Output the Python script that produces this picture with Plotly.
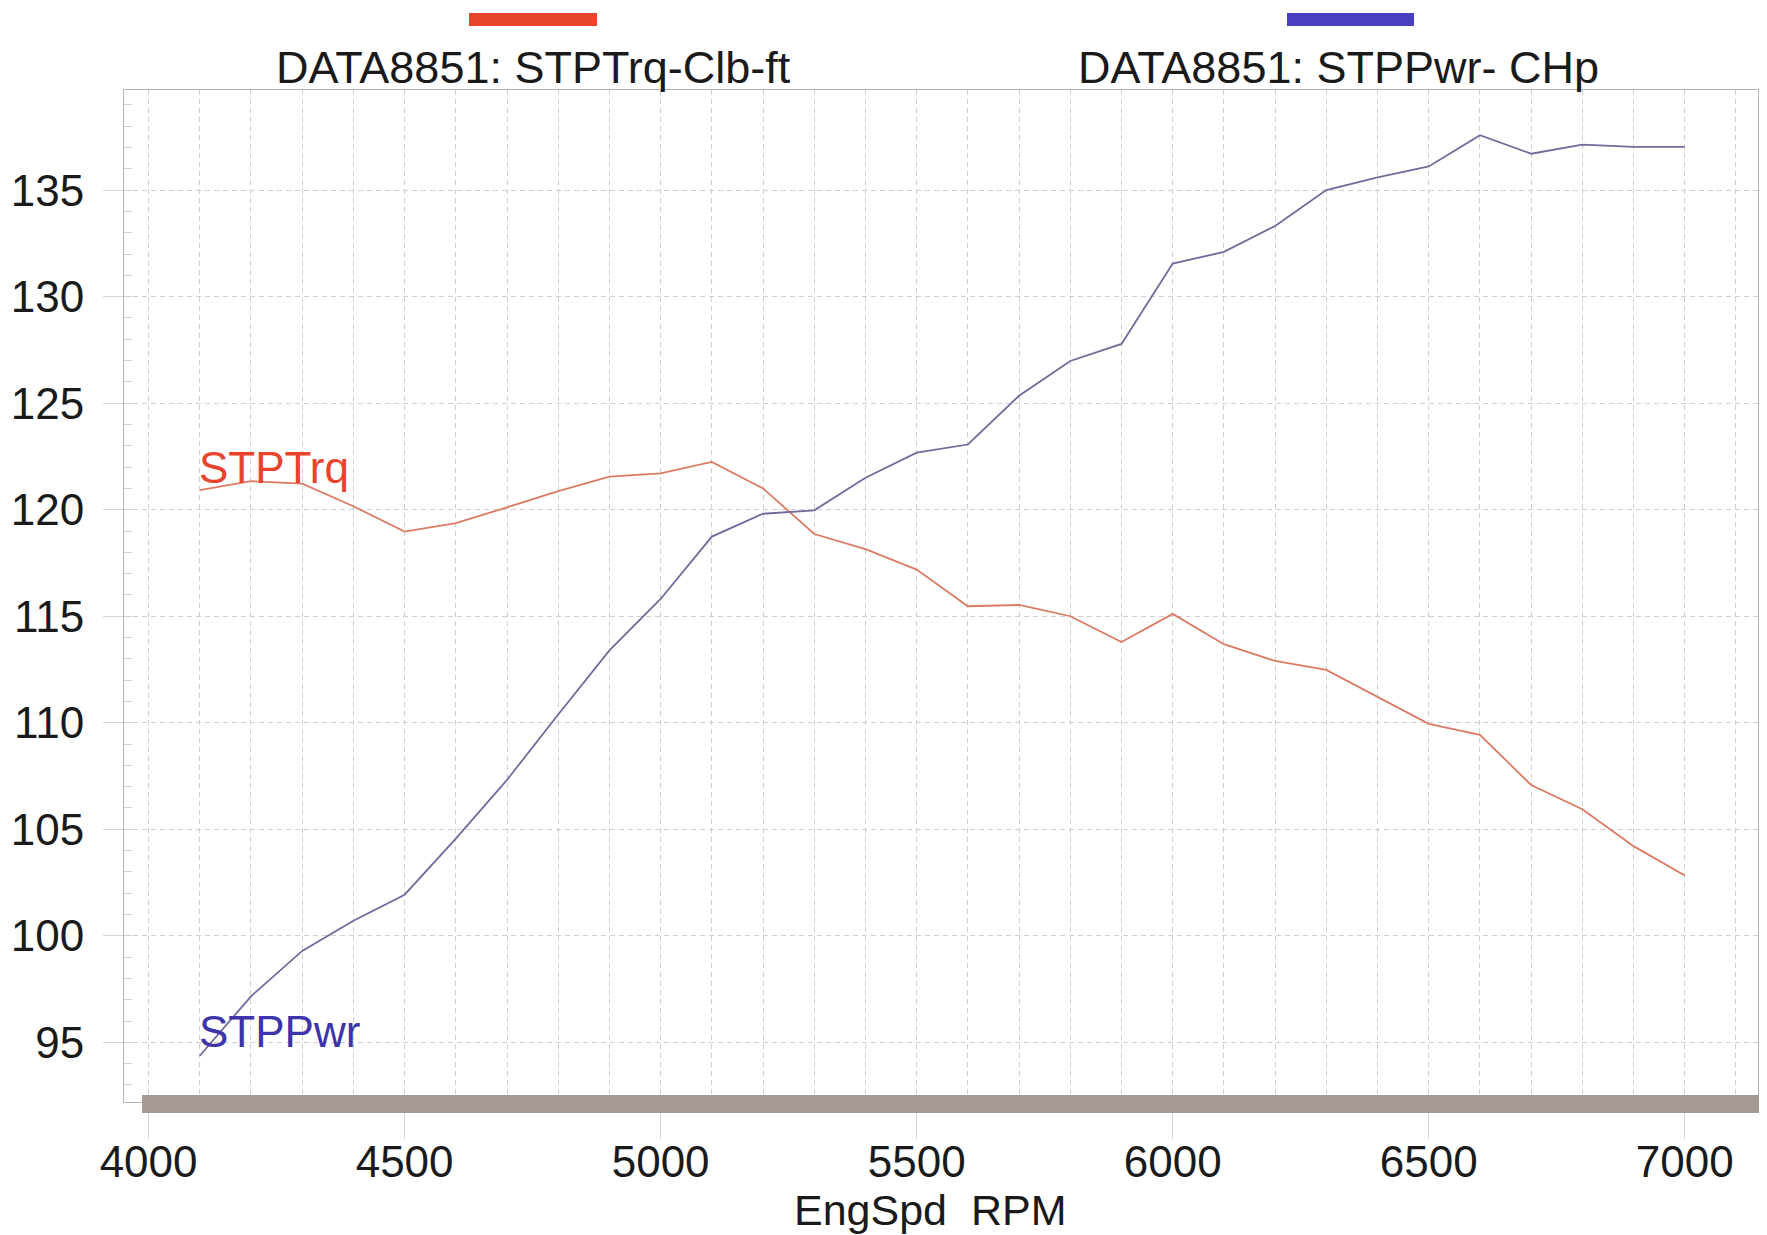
import plotly.graph_objects as go

# ---- data ----
rpm = [4100, 4200, 4300, 4400, 4500, 4600, 4700, 4800, 4900, 5000,
       5100, 5200, 5300, 5400, 5500, 5600, 5700, 5800, 5900, 6000,
       6100, 6200, 6300, 6400, 6500, 6600, 6700, 6800, 6900, 7000]
torque = [120.92, 121.34, 121.22, 120.16, 118.97, 119.37, 120.11, 120.87, 121.55, 121.71,
          122.24, 121.00, 118.86, 118.15, 117.19, 115.47, 115.53, 115.00, 113.79, 115.11,
          113.69, 112.90, 112.48, 111.21, 109.95, 109.43, 107.08, 105.94, 104.21, 102.83]
power = [94.37, 97.16, 99.29, 100.71, 101.93, 104.56, 107.32, 110.39, 113.40, 115.81,
         118.74, 119.81, 119.97, 121.50, 122.68, 123.06, 125.35, 126.98, 127.78, 131.55,
         132.10, 133.32, 135.00, 135.60, 136.11, 137.58, 136.71, 137.14, 137.03, 137.03]
x_ticks = [4000, 4500, 5000, 5500, 6000, 6500, 7000]
y_ticks = [95, 100, 105, 110, 115, 120, 125, 130, 135]
legend_names = ["DATA8851: STPTrq-Clb-ft", "DATA8851: STPPwr- CHp"]
trace_labels = ["STPTrq", "STPPwr"]

FONT = "Liberation Sans, Arial, sans-serif"
RED_LINE = "#dc7b63"
BLUE_LINE = "#6f6b9c"
RED_TXT = "#e8432b"
BLUE_TXT = "#3d34aa"
GRID = "#cfcfcf"
SHADOW = "#a69b94"

fig = go.Figure()
fig.add_trace(go.Scatter(x=rpm, y=torque, mode="lines", name=legend_names[0],
                         line=dict(color=RED_LINE, width=1.8)))
fig.add_trace(go.Scatter(x=rpm, y=power, mode="lines", name=legend_names[1],
                         line=dict(color=BLUE_LINE, width=1.8)))

OFF = 8  # page body margin in the browser
W, H = 1767 - OFF, 1235 - OFF
L, R, T, B = 124 - OFF, 9, 90 - OFF, 141 - OFF

fig.update_layout(
    width=W, height=H,
    margin=dict(l=L, r=R, t=T, b=B, pad=0, autoexpand=False),
    paper_bgcolor="white", plot_bgcolor="white",
    showlegend=False,
    font=dict(family=FONT, size=44, color="#1a1a1a"),
)

fig.update_xaxes(
    automargin=False,
    range=[3952, 7143],
    tickvals=x_ticks, ticktext=[str(v) for v in x_ticks],
    showgrid=True, gridcolor=GRID, griddash="5px,4px", gridwidth=1,
    minor=dict(dtick=100, tick0=4000, showgrid=True, gridcolor=GRID,
               griddash="5px,4px", gridwidth=1, ticks=""),
    ticks="outside", ticklen=36, tickcolor="#d6d6d6", tickwidth=1,
    ticklabelstandoff=-15,
    showline=True, linecolor="#b5b5b5", linewidth=1, mirror=True,
    zeroline=False,
    tickfont=dict(size=44, family=FONT, color="#1a1a1a"),
)
fig.update_yaxes(
    automargin=False,
    range=[92.2, 139.7],
    tickvals=y_ticks, ticktext=[str(v) for v in y_ticks],
    showgrid=True, gridcolor=GRID, griddash="5px,4px", gridwidth=1,
    minor=dict(dtick=1, tick0=95, ticks="inside", ticklen=8,
               tickcolor="#cdcdcd", showgrid=False),
    ticks="outside", ticklen=20, tickcolor="#d6d6d6", tickwidth=1,
    ticklabelstandoff=10,
    showline=True, linecolor="#b5b5b5", linewidth=1, mirror=True,
    zeroline=False,
    tickfont=dict(size=44, family=FONT, color="#1a1a1a"),
)

pw = W - L - R
ph = H - T - B


def px_to_paper_x(px):
    # px given in reference-page pixels
    return (px - OFF - L) / pw


def px_to_paper_y(py):
    return 1 - (py - OFF - T) / ph


shapes = []
# legend colour bars above the plot
shapes.append(dict(type="rect", xref="paper", yref="paper",
                   x0=px_to_paper_x(469), x1=px_to_paper_x(597),
                   y0=px_to_paper_y(26), y1=px_to_paper_y(13),
                   fillcolor="#e8452c", line=dict(width=0), layer="above"))
shapes.append(dict(type="rect", xref="paper", yref="paper",
                   x0=px_to_paper_x(1287), x1=px_to_paper_x(1414),
                   y0=px_to_paper_y(26), y1=px_to_paper_y(13),
                   fillcolor="#4a3fc2", line=dict(width=0), layer="above"))
# drop shadow of the plot frame
shapes.append(dict(type="rect", xref="paper", yref="paper",
                   x0=px_to_paper_x(142), x1=px_to_paper_x(1767),
                   y0=px_to_paper_y(1113), y1=px_to_paper_y(1095),
                   fillcolor=SHADOW, line=dict(width=0), layer="above"))
shapes.append(dict(type="rect", xref="paper", yref="paper",
                   x0=px_to_paper_x(1760), x1=px_to_paper_x(1767),
                   y0=px_to_paper_y(1113), y1=px_to_paper_y(107),
                   fillcolor=SHADOW, line=dict(width=0), layer="above"))
fig.update_layout(shapes=shapes)

ann = []
ann.append(dict(text=legend_names[0], xref="paper", yref="paper",
                x=px_to_paper_x(533), y=px_to_paper_y(67), xanchor="center", yanchor="middle",
                showarrow=False, font=dict(size=45, family=FONT, color="#1a1a1a")))
ann.append(dict(text=legend_names[1], xref="paper", yref="paper",
                x=px_to_paper_x(1338), y=px_to_paper_y(67), xanchor="center", yanchor="middle",
                showarrow=False, font=dict(size=45, family=FONT, color="#1a1a1a")))
ann.append(dict(text=trace_labels[0], xref="x", yref="y",
                x=rpm[0], y=122.0, xanchor="left", yanchor="middle", xshift=-3,
                showarrow=False, font=dict(size=44, family=FONT, color=RED_TXT)))
ann.append(dict(text=trace_labels[1], xref="x", yref="y",
                x=rpm[0], y=95.5, xanchor="left", yanchor="middle", xshift=-3,
                showarrow=False, font=dict(size=44, family=FONT, color=BLUE_TXT)))
ann.append(dict(text="EngSpd\u00a0\u00a0RPM", xref="paper", yref="paper",
                x=px_to_paper_x(930), y=px_to_paper_y(1210), xanchor="center", yanchor="middle",
                showarrow=False, font=dict(size=43, family=FONT, color="#1a1a1a")))
fig.update_layout(annotations=ann)

fig.write_html("out.html")
